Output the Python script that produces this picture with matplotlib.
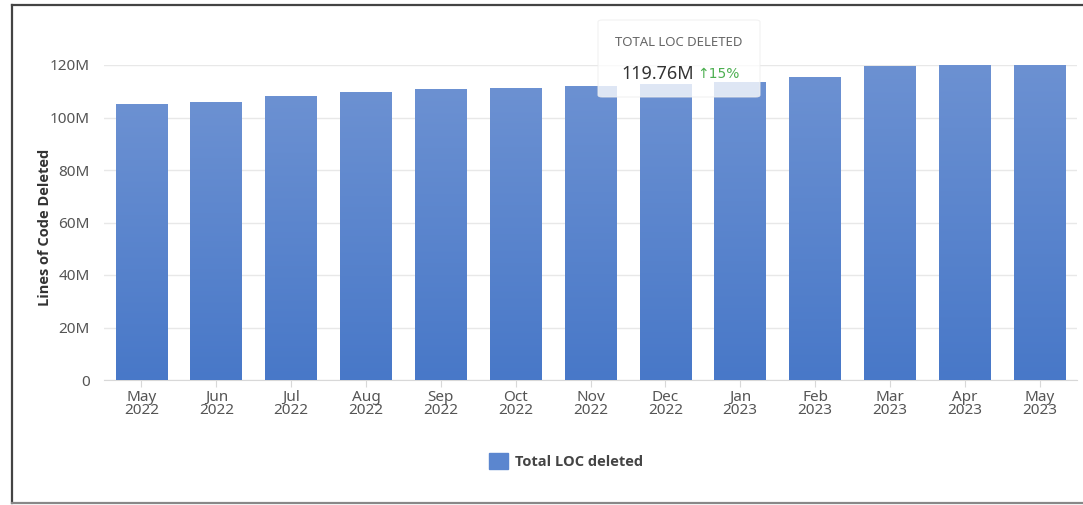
import numpy as np
import matplotlib
matplotlib.use("Agg")
import matplotlib.pyplot as plt
from matplotlib.patches import FancyBboxPatch
from matplotlib.lines import Line2D
from matplotlib.ticker import FuncFormatter

months = ["May\n2022", "Jun\n2022", "Jul\n2022", "Aug\n2022", "Sep\n2022", "Oct\n2022",
          "Nov\n2022", "Dec\n2022", "Jan\n2023", "Feb\n2023", "Mar\n2023", "Apr\n2023", "May\n2023"]
loc_deleted = [105.1, 105.6, 107.9, 109.4, 110.5, 111.1, 111.7, 112.4, 113.2, 115.2, 119.3, 119.7, 119.76]  # millions
y_ticks = [0, 20, 40, 60, 80, 100, 120]
series_name = "Total LOC deleted"
tooltip_title = "TOTAL LOC DELETED"
tooltip_value = "119.76M"
tooltip_change = "↑15%"

plt.rcParams['font.family'] = ['Noto Sans', 'DejaVu Sans']

W, H = 1083, 505
fig = plt.figure(figsize=(W / 100, H / 100), dpi=100)
ax = fig.add_axes([104 / W, 1 - 380 / H, (1077 - 104) / W, (380 - 65) / H])

x = np.arange(len(months))
vals = np.array(loc_deleted) * 1e6
bars = ax.bar(x, vals, width=0.69, color="#5b86cf", zorder=2, label=series_name)

# vertical gradient fill for each bar
top_c = np.array([108, 145, 210]) / 255
bot_c = np.array([72, 120, 200]) / 255
grad = np.linspace(0, 1, 256)[:, None]
img = bot_c[None, None, :] * (1 - grad[:, :, None]) + top_c[None, None, :] * grad[:, :, None]
for b in bars:
    x0, w, h = b.get_x(), b.get_width(), b.get_height()
    ax.imshow(img, extent=(x0, x0 + w, 0, h), origin="lower", aspect="auto", zorder=3)
    b.set_alpha(0)

ax.set_xlim(-0.5, len(months) - 0.5)
ax.set_ylim(0, 120e6)
ax.set_yticks([v * 1e6 for v in y_ticks])
ax.yaxis.set_major_formatter(FuncFormatter(lambda v, p: "0" if v == 0 else f"{int(v / 1e6)}M"))
ax.set_xticks(x)
ax.set_xticklabels(months, linespacing=0.85)
ax.grid(axis="y", color="#e8e8e8", linewidth=1, zorder=0)
for s in ["top", "right", "left"]:
    ax.spines[s].set_visible(False)
ax.spines["bottom"].set_color("#d8d8d8")
ax.tick_params(axis="y", length=0, labelsize=11, labelcolor="#555555", pad=10)
ax.tick_params(axis="x", length=5, color="#d8d8d8", labelsize=11, labelcolor="#555555", pad=2)
ax.set_ylabel("Lines of Code Deleted", fontsize=10.5, color="#333333", fontweight="bold",
              family=["Open Sans", "DejaVu Sans"])
ax.yaxis.set_label_coords(-0.053, 0.485)

# legend
leg = fig.legend(handles=[plt.Rectangle((0, 0), 1, 1, color="#5b86cf")], labels=[series_name],
                 loc="center", bbox_to_anchor=(566 / W, 1 - 461 / H), frameon=False,
                 handlelength=1.3, handleheight=1.3, handletextpad=0.5,
                 prop={"size": 10.5, "weight": "bold", "family": ["Open Sans", "DejaVu Sans"]})
for t in leg.get_texts():
    t.set_color("#444444")

# tooltip
tip = FancyBboxPatch((598 / W, 1 - 97 / H), 162 / W, 77 / H,
                     boxstyle="round,pad=0,rounding_size=0.004",
                     transform=fig.transFigure, facecolor="white", alpha=0.78,
                     edgecolor="#eeeeee", linewidth=0.8, zorder=10)
fig.patches.append(tip)
fig.text(679 / W, 1 - 42 / H, tooltip_title, ha="center", va="center", fontsize=9.5,
         color="#666666", zorder=11)
fig.text(621 / W, 1 - 74 / H, tooltip_value, ha="left", va="center", fontsize=13,
         color="#333333", zorder=11)
fig.text(697 / W, 1 - 74 / H, tooltip_change, ha="left", va="center", fontsize=10,
         color="#4caf50", family=["DejaVu Sans"], zorder=11)

# outer frame
fig.add_artist(Line2D([12 / W, 12 / W], [1 - 503 / H, 1 - 5 / H], transform=fig.transFigure,
                      color="#444444", linewidth=1.6))
fig.add_artist(Line2D([12 / W, 1.0], [1 - 5 / H, 1 - 5 / H], transform=fig.transFigure,
                      color="#444444", linewidth=1.6))
fig.add_artist(Line2D([12 / W, 1.0], [1 - 503 / H, 1 - 503 / H], transform=fig.transFigure,
                      color="#888888", linewidth=1.6))

fig.savefig("out.png", dpi=100)
